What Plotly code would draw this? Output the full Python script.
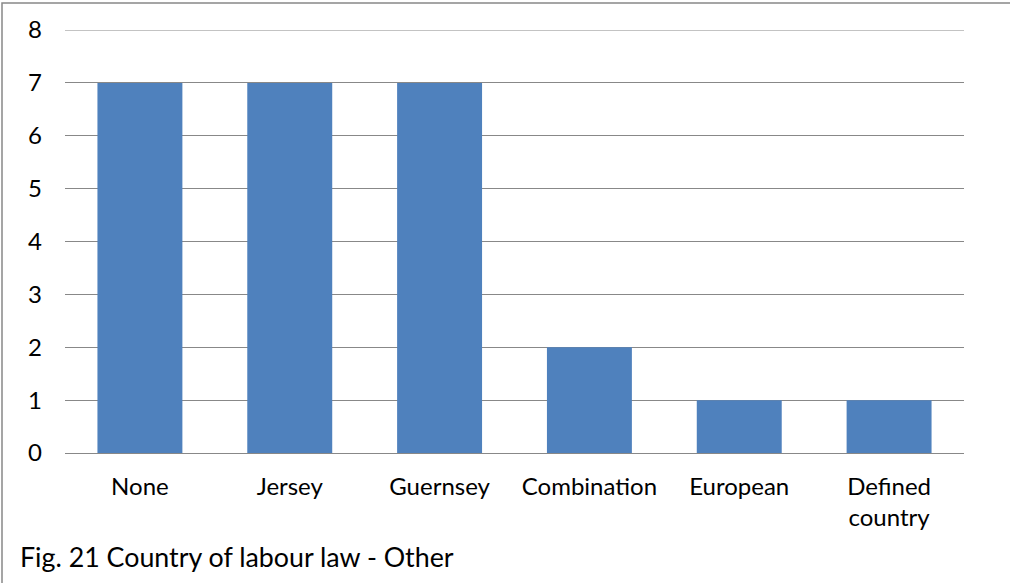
import plotly.graph_objects as go

categories = ["None", "Jersey", "Guernsey", "Combination", "European", "Defined<br>country"]
values = [7, 7, 7, 2, 1, 1]
y_ticks = [0, 1, 2, 3, 4, 5, 6, 7, 8]
caption = "Fig. 21 Country of labour law - Other"

W, H = 1010, 583
L, R, T, B = 65, 46, 30, 130
pw, ph = W - L - R, H - T - B

fig = go.Figure()
fig.add_trace(go.Bar(x=categories, y=values, marker=dict(color="#4F81BD", line=dict(width=0)),
                     width=0.567))

font = "Lato, Calibri, Carlito, sans-serif"
fig.update_layout(
    width=W, height=H,
    margin=dict(l=L, r=R, t=T, b=B),
    paper_bgcolor="white", plot_bgcolor="white",
    showlegend=False,
    font=dict(family=font, size=24, color="black"),
)
fig.update_yaxes(range=[0, 8], tickvals=y_ticks, showgrid=True, gridcolor="#888888", gridwidth=1,
                 zeroline=False, showline=False, ticks="", ticklabelstandoff=22,
                 tickfont=dict(size=24))
fig.update_xaxes(showline=True, linecolor="#888888", linewidth=1, ticks="", ticklabelstandoff=12,
                 tickfont=dict(size=24))

# top gridline
fig.add_shape(type="line", xref="paper", yref="y", x0=0, x1=1, y0=y_ticks[-1], y1=y_ticks[-1],
              line=dict(color="#888888", width=1))

# outer border
fig.add_shape(type="rect", xref="paper", yref="paper",
              x0=(2 - L) / pw, x1=(W + 5 - L) / pw,
              y0=-(H + 5 - T - ph) / ph, y1=1 + (T - 3) / ph,
              line=dict(color="#888888", width=1.5), fillcolor="rgba(0,0,0,0)", layer="below")

fig.add_annotation(text=caption, xref="paper", yref="paper",
                   x=(18 - L) / pw, y=-(557 - T - ph) / ph,
                   xanchor="left", yanchor="middle", showarrow=False,
                   font=dict(family=font, size=26.8, color="black"))

fig.write_html("out.html", config={"displayModeBar": False},
               post_script="document.body.style.margin='0';document.body.style.overflow='hidden';")
